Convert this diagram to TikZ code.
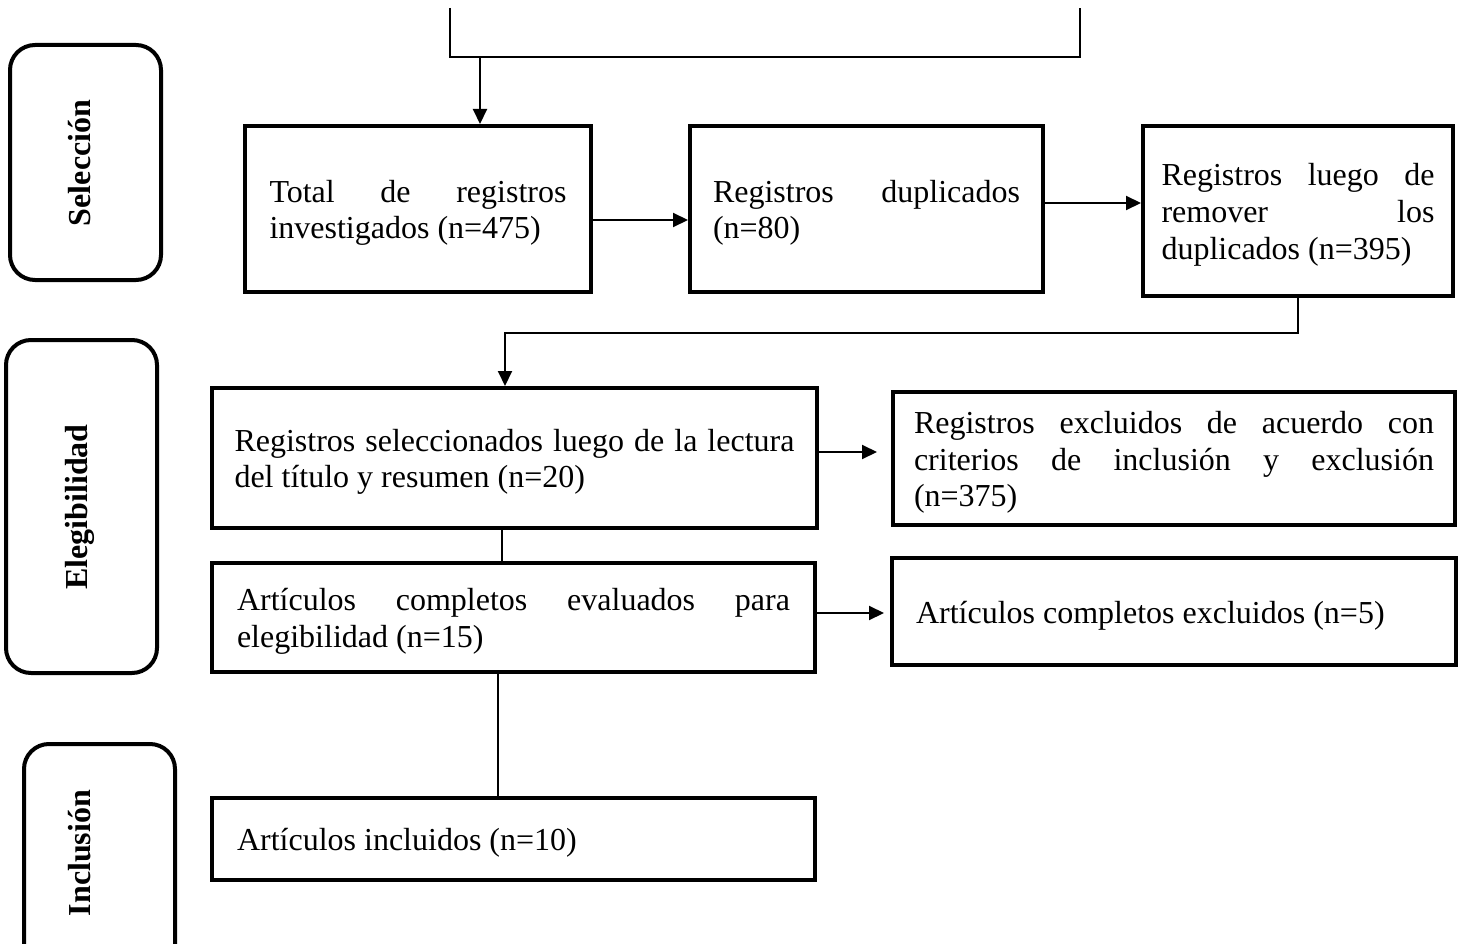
\documentclass[tikz,border=0pt]{standalone}
\usepackage{fontspec}
\setmainfont{Liberation Serif}
\usetikzlibrary{arrows.meta}
\hyphenpenalty=10000 \tolerance=10000 \hbadness=10000
\tikzset{
	caja/.style={draw,line width=4pt,align=justify,inner ysep=0pt,font=\fontsize{32}{36.8}\selectfont,
		execute at begin node={\rule{0pt}{30pt}}},
	etapa/.style={line width=4pt,rounded corners=25pt},
	rotulo/.style={rotate=90,font=\bfseries\fontsize{32}{36.8}\selectfont},
	linea/.style={line width=2pt},
	flecha/.style={line width=2pt,-{Triangle[length=15pt,width=14pt]}}
}
\begin{document}
\begin{tikzpicture}[x=1pt,y=-1pt]
	\useasboundingbox (0,0) rectangle (1461,944);
	% etapas
	\draw[etapa] (10,45) rectangle (161,280);
	\draw[etapa] (6,340) rectangle (157,673);
	\draw[etapa] (24,744) rectangle (175,980);
	\node[rotulo] (sel) at (80,163) {Selección};
	\node[rotulo] (eleg) at (80,507) {Elegibilidad};
	\node[rotulo] (inc) at (80,853) {Inclusión};
	% cajas
	\node[caja,text width=297pt,inner xsep=24.5pt,minimum height=166pt] (total) at (418,209)
		{Total de registros\linebreak investigados (n=475)};
	\node[caja,text width=307pt,inner xsep=23pt,minimum height=166pt] (dup) at (866.5,209)
		{Registros duplicados\linebreak (n=80)};
	\node[caja,text width=273pt,inner xsep=18.5pt,minimum height=170pt] (sinDup) at (1298,211)
		{Registros luego de\linebreak remover los\linebreak duplicados (n=395)};
	\node[caja,text width=560pt,inner xsep=22.5pt,minimum height=140pt] (selec) at (514.5,458)
		{Registros seleccionados luego de la lectura\linebreak del título y resumen (n=20)};
	\node[caja,text width=520pt,inner xsep=21pt,minimum height=133pt] (excl) at (1174,458.5)
		{Registros excluidos de acuerdo con\linebreak criterios de inclusión y exclusión\linebreak (n=375)};
	\node[caja,text width=553pt,inner xsep=25pt,minimum height=109pt] (compl) at (513.5,617.5)
		{Artículos completos evaluados para\linebreak elegibilidad (n=15)};
	\node[caja,text width=516pt,inner xsep=24pt,minimum height=107pt] (exclC) at (1174,611.5)
		{Artículos completos excluidos (n=5)};
	\node[caja,text width=553pt,inner xsep=25pt,minimum height=82pt] (incl) at (513.5,839)
		{Artículos incluidos (n=10)};
	% conectores
	\coordinate (izq) at (450,8);
	\coordinate (der) at (1080,8);
	\coordinate (barra) at (480,57);
	\coordinate (codo) at (505,333);
	\draw[linea] (izq) |- (der |- barra) -- (der);
	\draw[flecha] (barra) -- (barra |- total.north);
	\draw[flecha] (total.east |- 0,220) -- (dup.west |- 0,220);
	\draw[flecha] (dup.east |- 0,203) -- (sinDup.west |- 0,203);
	\draw[flecha] (sinDup.south) |- (codo) -- (codo |- selec.north);
	\draw[flecha] (selec.east |- 0,452) -- ++(58,0);
	\draw[linea] (selec.south -| 502,0) -- (compl.north -| 502,0);
	\draw[flecha] (compl.east |- 0,613) -- ++(67,0);
	\draw[linea] (compl.south -| 498,0) -- (incl.north -| 498,0);
\end{tikzpicture}
\end{document}
